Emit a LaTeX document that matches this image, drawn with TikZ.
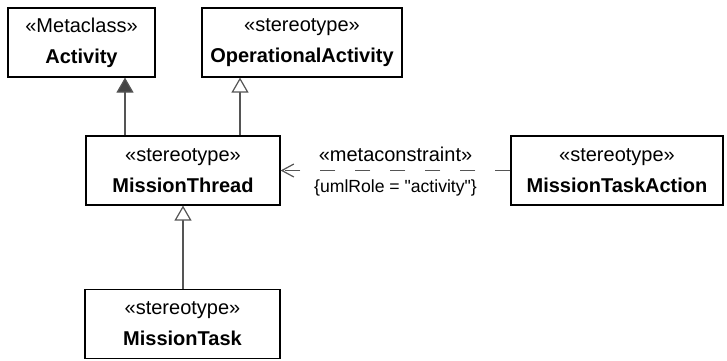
\documentclass[tikz,border=0pt]{standalone}
\usepackage{fontspec}
\setmainfont{Liberation Sans}[Ligatures=TeXOff]
\usetikzlibrary{arrows.meta}
\definecolor{linegray}{HTML}{555555}
\definecolor{tipgray}{HTML}{444444}

\begin{document}
\begin{tikzpicture}[x=0.5pt, y=-0.5pt,
  umlbox/.style={draw, line width=0.6pt, align=center, inner sep=0pt, minimum height=34.5pt, font=\fontsize{10}{15.5}\selectfont},
  gen/.style={draw=linegray, line width=0.6pt, -{Triangle[open, width=8.5pt, length=7.5pt, fill=white]}},
  ext/.style={draw=linegray, line width=0.6pt, -{Triangle[width=8.5pt, length=7.5pt, fill=tipgray]}},
  dep/.style={draw=linegray, line width=0.6pt, dash pattern=on 7.5pt off 10pt, -{Straight Barb[width=6.5pt, length=6pt]}}]
\useasboundingbox (0,0) rectangle (727,360);
\node[umlbox, minimum width=73.5pt] (activity) at (81.5,42.5) {«Metaclass»\\\textbf{Activity}};
\node[umlbox, minimum width=100pt] (opact) at (302,42.5) {«stereotype»\\\textbf{OperationalActivity}};
\node[umlbox, minimum width=97pt] (mthread) at (183,170.5) {«stereotype»\\\textbf{MissionThread}};
\node[umlbox, minimum width=106pt] (mtaction) at (617,170.5) {«stereotype»\\\textbf{MissionTaskAction}};
\node[umlbox, minimum width=97.5pt] (mtask) at (182.5,324) {«stereotype»\\\textbf{MissionTask}};
\draw[ext] ([xshift=-29pt]mthread.north) -- ([xshift=-29pt]mthread.north |- activity.south);
\draw[gen] ([xshift=28.5pt]mthread.north) -- ([xshift=28.5pt]mthread.north |- opact.south);
\draw[gen] (mthread.south |- mtask.north) -- (mthread.south);
\draw[dep] (mtaction.west) -- (mthread.east)
  node[midway, above=1pt, font=\fontsize{10}{12}\selectfont] (metalbl) {«metaconstraint»}
  node[midway, below=1pt, font=\fontsize{8.8}{10}\selectfont] (rolelbl) {\{umlRole = "activity"\}};
\end{tikzpicture}
\end{document}
